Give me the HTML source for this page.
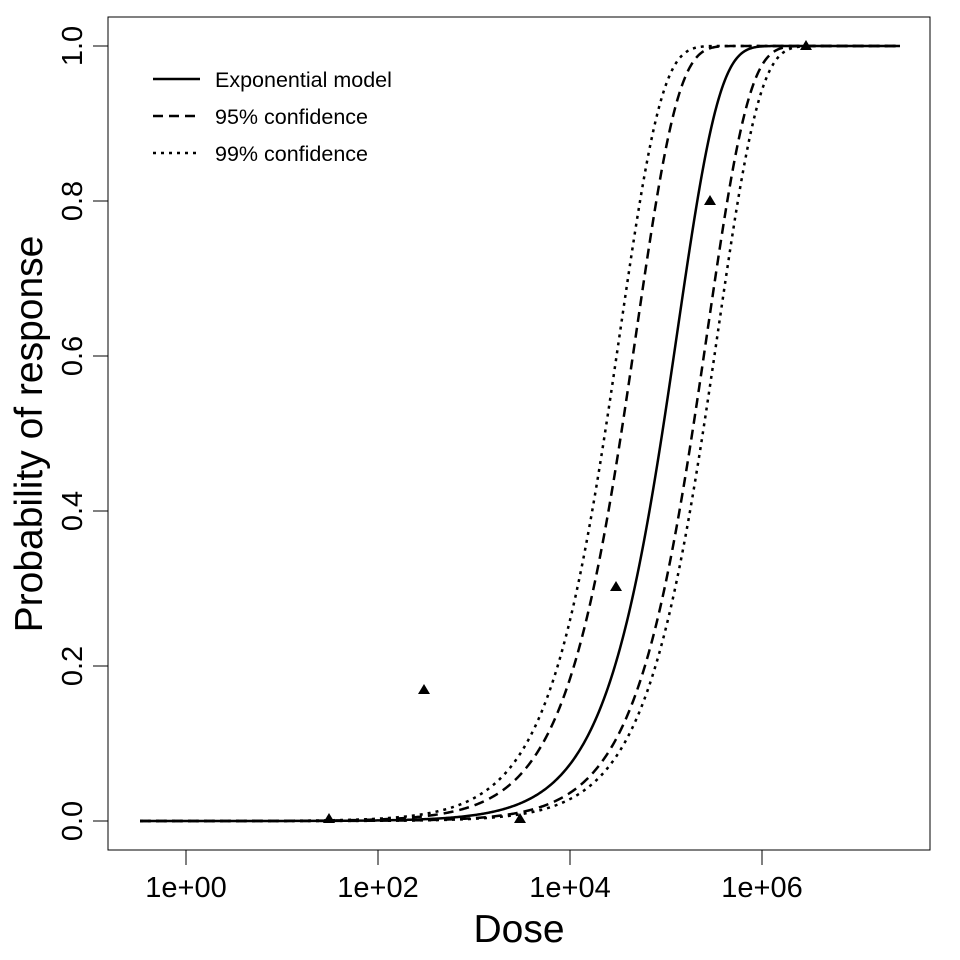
<!DOCTYPE html>
<html><head><meta charset="utf-8"><style>body{margin:0;background:#fff}svg{display:block}text{font-family:"Liberation Sans",Arial,sans-serif;fill:#000}</style></head>
<body>
<svg id="s" width="960" height="960" xmlns="http://www.w3.org/2000/svg">
<rect x="108" y="17" width="822" height="833" fill="none" stroke="#000" stroke-width="1"/>
<g stroke="#000" stroke-width="1">
<line x1="108" y1="46" x2="108" y2="821"/>
<line x1="93" y1="46" x2="108" y2="46"/><line x1="93" y1="201" x2="108" y2="201"/><line x1="93" y1="356" x2="108" y2="356"/><line x1="93" y1="511" x2="108" y2="511"/><line x1="93" y1="666" x2="108" y2="666"/><line x1="93" y1="821" x2="108" y2="821"/>
<line x1="186" y1="850" x2="762" y2="850"/>
<line x1="186" y1="850" x2="186" y2="865"/><line x1="378" y1="850" x2="378" y2="865"/><line x1="570" y1="850" x2="570" y2="865"/><line x1="762" y1="850" x2="762" y2="865"/>
</g>
<g font-size="29" text-anchor="middle">
<text x="186" y="897">1e+00</text><text x="378" y="897">1e+02</text><text x="570" y="897">1e+04</text><text x="762" y="897">1e+06</text>
<text transform="translate(82,821) rotate(-90)">0.0</text>
<text transform="translate(82,666) rotate(-90)">0.2</text>
<text transform="translate(82,511) rotate(-90)">0.4</text>
<text transform="translate(82,356) rotate(-90)">0.6</text>
<text transform="translate(82,201) rotate(-90)">0.8</text>
<text transform="translate(82,46) rotate(-90)">1.0</text>
</g>
<text x="519" y="942" font-size="39" text-anchor="middle">Dose</text>
<text transform="translate(42,434) rotate(-90)" font-size="39" text-anchor="middle">Probability of response</text>
<g stroke="#000" stroke-width="2.5">
<line x1="153" y1="79" x2="200" y2="79"/>
<line x1="153" y1="116" x2="200" y2="116" stroke-dasharray="10,6"/>
<line x1="153" y1="153" x2="200" y2="153" stroke-dasharray="3,5"/>
</g>
<g font-size="21.5"><text x="215" y="87">Exponential model</text><text x="215" y="124">95% confidence</text><text x="215" y="161">99% confidence</text></g>
<g id="c" fill="none" stroke="#000" stroke-width="2.5"></g>
<g fill="#000">
<polygon points="329,813 323,823 335,823"/>
<polygon points="424,684 418,694 430,694"/>
<polygon points="520,813 514,823 526,823"/>
<polygon points="616,581 610,591 622,591"/>
<polygon points="710,195 704,205 716,205"/>
<polygon points="806,40 800,50 812,50"/>
</g>
</svg>
<script>
var g=document.getElementById('c');
var ks=[[7.6e-6,''],[2.03e-5,'10,6'],[3.7e-6,'10,6'],[3.0e-5,'3,5'],[2.87e-6,'3,5']];
ks.forEach(function(a){var d='';for(var x=140;x<=900;x+=1){var L=(x-186)/96;var p=1-Math.exp(-a[0]*Math.pow(10,L));var y=821-775*p;d+=(x==140?'M':'L')+x+','+y.toFixed(2);}
var p=document.createElementNS('http://www.w3.org/2000/svg','path');p.setAttribute('d',d);if(a[1])p.setAttribute('stroke-dasharray',a[1]);g.appendChild(p);});
</script>
</body></html>
